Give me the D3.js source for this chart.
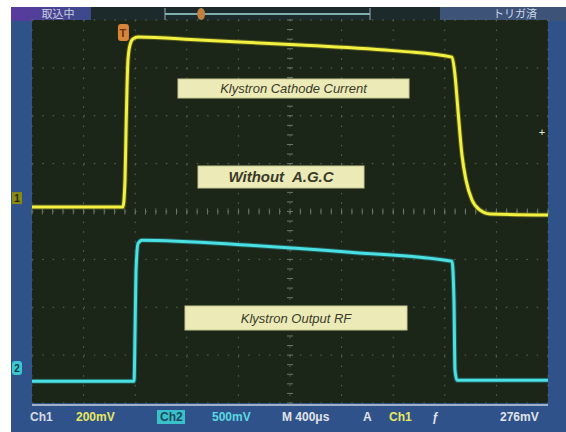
<!DOCTYPE html>
<html>
<head>
<meta charset="utf-8">
<script src="https://cdn.jsdelivr.net/npm/d3@7"></script>
<style>
  body { margin: 0; background: #fff; }
  text { font-family: "Liberation Sans", Arial, sans-serif; }
</style>
</head>
<body>
<div id="scope"></div>
<script>
// Ch1: klystron cathode current (200mV/div), Ch2: klystron output RF (500mV/div)
// time axis in microseconds, 400us/div, 10 divisions
var ch1Time = [0, 705, 721, 729, 736, 744, 760, 783, 822, 1300, 2080, 2850, 3256, 3279, 3302, 3333, 3364, 3411, 3473, 3550, 4000];
var ch1mV   = [-37, -37, 76, 284, 452, 577, 640, 665, 673, 660, 640, 614, 589, 514, 368, 180, 76, -8, -50, -66, -71];

var ch2Time = [0, 791, 799, 806, 822, 853, 1690, 2465, 3256, 3271, 3279, 3295, 4000];
var ch2mV   = [-137, -137, 400, 1000, 1300, 1335, 1282, 1209, 1115, 713, -21, -127, -127];

var labels = ["Klystron Cathode Current", "Without  A.G.C", "Klystron Output RF"];
var statusLeft = "取込中", statusRight = "トリガ済";
var trigLevel = 276; // mV on ch1

// set the dimensions of the screen
const W = 566, H = 432;
const plot = {left: 32, right: 548, top: 20, bottom: 403};

const svg = d3.select("#scope")
  .append("svg")
    .attr("width", W)
    .attr("height", H);

// frame
svg.append("rect").attr("x", 11).attr("y", 7).attr("width", W - 11).attr("height", H - 7)
  .attr("fill", "#30528a");
svg.append("rect").attr("x", 11).attr("y", 7).attr("width", W - 11).attr("height", 14)
  .attr("fill", "#1d2a2c");
var grad = svg.append("defs").append("linearGradient").attr("id", "tl");
grad.append("stop").attr("offset", "0%").attr("stop-color", "#5a3aa0");
grad.append("stop").attr("offset", "100%").attr("stop-color", "#3a4a8a");
svg.append("rect").attr("x", 11).attr("y", 7).attr("width", 80).attr("height", 14).attr("fill", "url(#tl)");
svg.append("rect").attr("x", 440).attr("y", 7).attr("width", 126).attr("height", 14).attr("fill", "#3d5378");
svg.append("text").attr("x", 58).attr("y", 18).attr("text-anchor", "middle")
  .attr("font-size", 11).attr("fill", "#c8d0e0")
  .style("font-family", "'Noto Sans CJK JP'").text(statusLeft);
svg.append("text").attr("x", 515).attr("y", 18).attr("text-anchor", "middle")
  .attr("font-size", 11).attr("fill", "#d0d8e8")
  .style("font-family", "'Noto Sans CJK JP'").text(statusRight);

// plot background
svg.append("rect").attr("x", plot.left).attr("y", plot.top)
  .attr("width", plot.right - plot.left).attr("height", plot.bottom - plot.top)
  .attr("fill", "#1b2518");

// scales
const x = d3.scaleLinear().domain([0, 4000]).range([plot.left, plot.right]);
const yDiv = d3.scaleLinear().domain([-4, 4]).range([plot.bottom, plot.top]);
const ch1Pos = 0.28, ch2Pos = -3.27;
const y1 = v => yDiv(ch1Pos + v / 200);
const y2 = v => yDiv(ch2Pos + v / 500);

// record bar in top strip
const rec = d3.scaleLinear().domain([0, 4000]).range([165, 370]);
svg.append("line").attr("x1", rec(0)).attr("x2", rec(4000)).attr("y1", 14).attr("y2", 14)
  .attr("stroke", "#7fb0b0").attr("stroke-width", 2);
[0, 4000].forEach(function(t) {
  svg.append("line").attr("x1", rec(t)).attr("x2", rec(t)).attr("y1", 8).attr("y2", 20)
    .attr("stroke", "#9ab").attr("stroke-width", 1);
});
svg.append("ellipse").attr("cx", rec(705)).attr("cy", 14).attr("rx", 4).attr("ry", 6).attr("fill", "#c08040");

// grid
var g = svg.append("g");
d3.range(0, 4001, 400).forEach(function(t) {
  g.append("line").attr("x1", x(t)).attr("x2", x(t)).attr("y1", plot.top).attr("y2", plot.bottom)
    .attr("stroke", "#5c6a5c").attr("stroke-width", 1).attr("stroke-dasharray", "1.5,8.1");
});
d3.range(-4, 4.1, 1).forEach(function(d) {
  g.append("line").attr("x1", plot.left).attr("x2", plot.right).attr("y1", yDiv(d)).attr("y2", yDiv(d))
    .attr("stroke", "#5c6a5c").attr("stroke-width", 1).attr("stroke-dasharray", "1.5,8.8");
});
// centre ticks
d3.range(0, 4001, 80).forEach(function(t) {
  g.append("line").attr("x1", x(t)).attr("x2", x(t)).attr("y1", yDiv(0) - 3).attr("y2", yDiv(0) + 3)
    .attr("stroke", "#6a786a");
});
d3.range(-4, 4.01, 0.2).forEach(function(d) {
  g.append("line").attr("x1", x(2000) - 3).attr("x2", x(2000) + 3).attr("y1", yDiv(d)).attr("y2", yDiv(d))
    .attr("stroke", "#6a786a");
});

// traces
const line1 = d3.line().x((d, i) => x(ch1Time[i])).y(d => y1(d)).curve(d3.curveMonotoneX);
const line2 = d3.line().x((d, i) => x(ch2Time[i])).y(d => y2(d)).curve(d3.curveMonotoneX);

svg.append("path").datum(ch1mV).attr("fill", "none").attr("stroke", "#8a8a20")
  .attr("stroke-width", 5).attr("opacity", 0.5).attr("d", line1);
svg.append("path").datum(ch1mV).attr("fill", "none").attr("stroke", "#f2f040")
  .attr("stroke-width", 3).attr("d", line1);
svg.append("path").datum(ch2mV).attr("fill", "none").attr("stroke", "#2a8a8a")
  .attr("stroke-width", 5).attr("opacity", 0.5).attr("d", line2);
svg.append("path").datum(ch2mV).attr("fill", "none").attr("stroke", "#4ae0e4")
  .attr("stroke-width", 3).attr("d", line2);

// text labels on screen
var boxes = [
  {x: 178, y: 79, w: 231, h: 19, size: 13, weight: "normal"},
  {x: 198, y: 166, w: 166, h: 22, size: 15, weight: "bold"},
  {x: 185, y: 306, w: 222, h: 24, size: 13, weight: "normal"}
];
labels.forEach(function(t, i) {
  var b = boxes[i];
  svg.append("rect").attr("x", b.x).attr("y", b.y).attr("width", b.w).attr("height", b.h)
    .attr("fill", "#ecebb8").attr("stroke", "#c8c890");
  svg.append("text").attr("x", b.x + b.w / 2).attr("y", b.y + b.h / 2 + b.size * 0.36)
    .attr("text-anchor", "middle").attr("font-size", b.size).attr("font-weight", b.weight)
    .attr("font-style", "italic").attr("fill", "#3a3a28")
    .style("white-space", "pre").text(t);
});

// channel markers
svg.append("rect").attr("x", 12).attr("y", y1(0) - 6).attr("width", 10).attr("height", 12).attr("fill", "#8a8a10");
svg.append("text").attr("x", 17).attr("y", y1(0) + 4).attr("text-anchor", "middle")
  .attr("font-size", 10).attr("font-weight", "bold").attr("fill", "#1b2518").text("1");
svg.append("rect").attr("x", 12).attr("y", y2(0) - 7).attr("width", 10).attr("height", 14).attr("rx", 3).attr("fill", "#3ac8d0");
svg.append("text").attr("x", 17).attr("y", y2(0) + 4).attr("text-anchor", "middle")
  .attr("font-size", 10).attr("font-weight", "bold").attr("fill", "#1b3a48").text("2");

// trigger position and level markers
svg.append("rect").attr("x", x(705) - 5).attr("y", 24).attr("width", 11).attr("height", 17).attr("rx", 3).attr("fill", "#d8843a");
svg.append("text").attr("x", x(705)).attr("y", 37).attr("text-anchor", "middle")
  .attr("font-size", 11).attr("font-weight", "bold").attr("fill", "#6a3010").text("T");
svg.append("text").attr("x", 542).attr("y", y1(trigLevel) + 4).attr("text-anchor", "middle")
  .attr("font-size", 11).attr("fill", "#e8e8d0").text("+");

// readout bar
svg.append("line").attr("x1", plot.left).attr("x2", plot.right).attr("y1", 405).attr("y2", 405)
  .attr("stroke", "#c8d0d8").attr("stroke-width", 1.5);
svg.append("rect").attr("x", 157).attr("y", 410).attr("width", 28).attr("height", 14).attr("fill", "#3ac0c8");
var readout = [
  {t: "Ch1", x: 30, c: "#d8dce0"},
  {t: "200mV", x: 76, c: "#e8e860"},
  {t: "Ch2", x: 160, c: "#1a4a60"},
  {t: "500mV", x: 212, c: "#5ad8e0"},
  {t: "M 400μs", x: 282, c: "#e0e4e8"},
  {t: "A", x: 363, c: "#e0e4e8"},
  {t: "Ch1", x: 389, c: "#e8e860"},
  {t: "ƒ", x: 432, c: "#e0e4e8"},
  {t: "276mV", x: 500, c: "#e0e4e8"}
];
readout.forEach(function(r) {
  svg.append("text").attr("x", r.x).attr("y", 421).attr("font-size", 12).attr("font-weight", "bold")
    .attr("fill", r.c).text(r.t);
});
</script>
</body>
</html>
